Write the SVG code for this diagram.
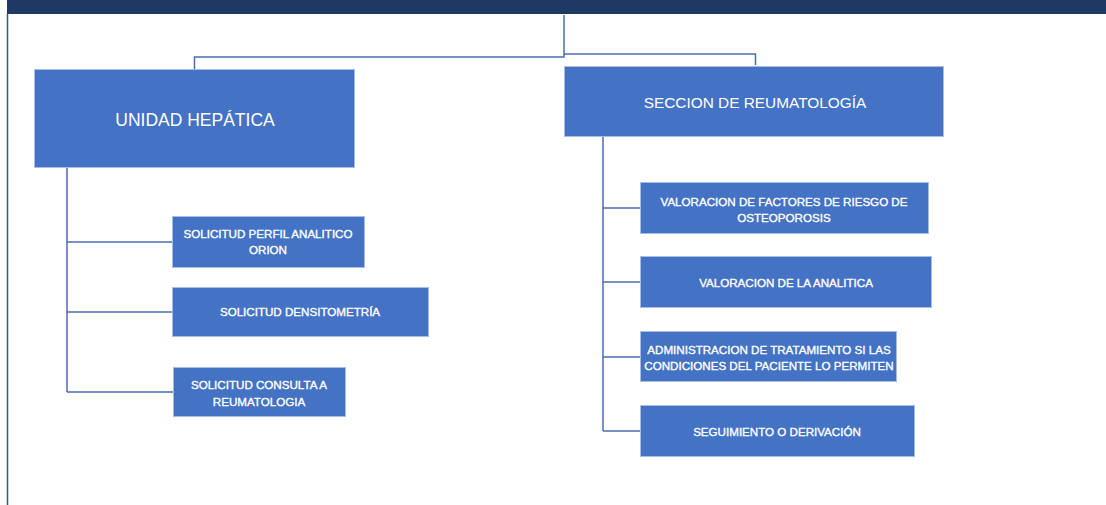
<svg xmlns="http://www.w3.org/2000/svg" width="1106" height="505" viewBox="0 0 1106 505">
<style>
.box{fill:#4472C4;stroke:#A9BEE4;stroke-width:1}
.t{fill:#FFFFFF;font-family:"Liberation Sans",Arial,sans-serif;text-anchor:middle;dominant-baseline:central}
.s{font-size:11.6px;stroke:#FFFFFF;stroke-width:0.35}
.c{fill:none;stroke:#4A6DB0;stroke-width:1.5}
</style>
<rect x="7" y="0" width="1099" height="14" fill="#1F3864"/>
<line x1="7.5" y1="14" x2="7.5" y2="505" stroke="#2F5597" stroke-width="1.5"/>
<g id="connectors">
<polyline class="c" points="564,15 564,57 194.5,57 194.5,69"/>
<polyline class="c" points="564,54 755.5,54 755.5,65"/>
<line class="c" x1="67" y1="168" x2="67" y2="392"/>
<line class="c" x1="67" y1="242" x2="172" y2="242"/>
<line class="c" x1="67" y1="312" x2="172" y2="312"/>
<line class="c" x1="67" y1="392" x2="173" y2="392"/>
<line class="c" x1="603" y1="137" x2="603" y2="431"/>
<line class="c" x1="603" y1="208" x2="640" y2="208"/>
<line class="c" x1="603" y1="282" x2="640" y2="282"/>
<line class="c" x1="603" y1="357" x2="640" y2="357"/>
<line class="c" x1="603" y1="431" x2="640" y2="431"/>
</g>
<g id="unidad">
<rect class="box" x="34.5" y="69.5" width="320" height="98"/>
<text class="t" x="195" y="120" font-size="17.5">UNIDAD HEPÁTICA</text>
</g>
<g id="perfil">
<rect class="box" x="172.5" y="216.5" width="192" height="51"/>
<text class="t s" x="268" y="233">SOLICITUD PERFIL ANALITICO</text>
<text class="t s" x="268" y="249">ORION</text>
</g>
<g id="densito">
<rect class="box" x="172.5" y="287.5" width="256" height="49"/>
<text class="t s" x="300" y="311">SOLICITUD DENSITOMETRÍA</text>
</g>
<g id="consulta">
<rect class="box" x="173.5" y="367.5" width="172" height="49"/>
<text class="t s" x="259" y="384">SOLICITUD CONSULTA A</text>
<text class="t s" x="259" y="401">REUMATOLOGIA</text>
</g>
<g id="seccion">
<rect class="box" x="564.5" y="66.5" width="379" height="70"/>
<text class="t" x="755" y="102" font-size="15.4">SECCION DE REUMATOLOGÍA</text>
</g>
<g id="factores">
<rect class="box" x="640.5" y="182.5" width="288" height="51"/>
<text class="t s" x="784" y="201">VALORACION DE FACTORES DE RIESGO DE</text>
<text class="t s" x="784" y="217">OSTEOPOROSIS</text>
</g>
<g id="analitica">
<rect class="box" x="640.5" y="256.5" width="291" height="51"/>
<text class="t s" x="786" y="282">VALORACION DE LA ANALITICA</text>
</g>
<g id="tratamiento">
<rect class="box" x="640.5" y="331.5" width="256" height="50"/>
<text class="t s" x="769" y="349">ADMINISTRACION DE TRATAMIENTO SI LAS</text>
<text class="t s" x="769" y="365">CONDICIONES DEL PACIENTE LO PERMITEN</text>
</g>
<g id="seguimiento">
<rect class="box" x="640.5" y="405.5" width="274" height="51"/>
<text class="t s" x="777" y="431">SEGUIMIENTO O DERIVACIÓN</text>
</g>
</svg>
